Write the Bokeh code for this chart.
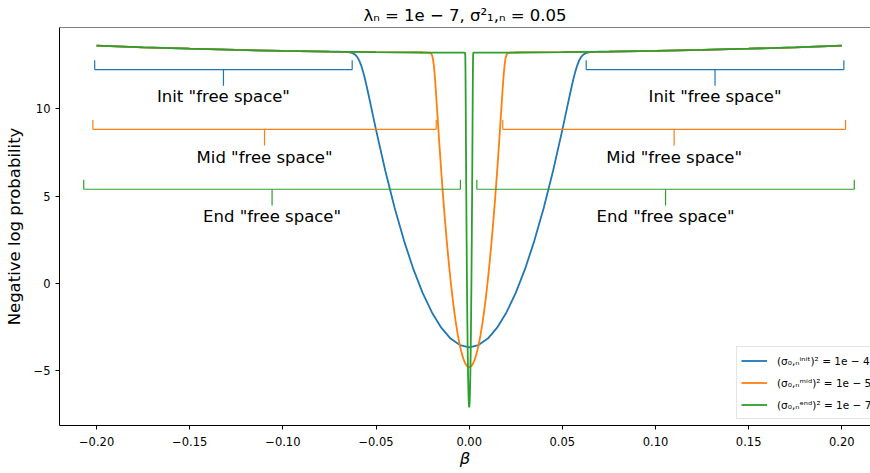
from bokeh.plotting import figure
from bokeh.models import Range1d, FixedTicker, Span
from bokeh.core.properties import value
from bokeh.embed import file_html
from bokeh.resources import INLINE

# ---------------- data (each curve is symmetric in beta) -------------
beta_init = [0.0, 0.005, 0.01, 0.015, 0.02, 0.025, 0.03, 0.035, 0.04, 0.045, 0.05, 0.052,
             0.054, 0.055, 0.056, 0.057, 0.058, 0.059, 0.06, 0.061, 0.062, 0.063, 0.065,
             0.067, 0.07, 0.075, 0.1, 0.125, 0.15, 0.175, 0.2]
nlp_init = [-3.686, -3.561, -3.186, -2.561, -1.686, -0.561, 0.814, 2.439, 4.314, 6.438, 8.802,
            9.802, 10.805, 11.290, 11.747, 12.159, 12.506, 12.777, 12.970, 13.097, 13.175,
            13.221, 13.264, 13.277, 13.286, 13.293, 13.337, 13.393, 13.462, 13.543, 13.637]

beta_mid = [0.0, 0.001, 0.002, 0.003, 0.004, 0.005, 0.006, 0.007, 0.008, 0.009, 0.010, 0.011,
            0.012, 0.013, 0.014, 0.015, 0.016, 0.017, 0.018, 0.0185, 0.019, 0.0195, 0.020,
            0.0205, 0.021, 0.022, 0.025, 0.03, 0.05, 0.075, 0.1, 0.125, 0.15, 0.175, 0.2]
nlp_mid = [-4.837, -4.787, -4.637, -4.387, -4.037, -3.587, -3.037, -2.387, -1.637, -0.787, 0.163,
           1.213, 2.363, 3.613, 4.963, 6.413, 7.958, 9.587, 11.221, 11.953, 12.533, 12.909,
           13.104, 13.189, 13.222, 13.239, 13.243, 13.246, 13.262, 13.293, 13.337, 13.393,
           13.462, 13.543, 13.637]

beta_end = [0.0, 0.0002, 0.0004, 0.0006, 0.0008, 0.001, 0.0012, 0.0014, 0.0016, 0.0018, 0.0019,
            0.002, 0.0021, 0.0022, 0.0024, 0.003, 0.01, 0.025, 0.05, 0.075, 0.1, 0.125, 0.15,
            0.175, 0.2]
nlp_end = [-7.140, -6.940, -6.340, -5.340, -3.940, -2.140, 0.060, 2.660, 5.659, 9.045, 10.817,
           12.338, 13.065, 13.215, 13.236, 13.237, 13.238, 13.243, 13.262, 13.293, 13.337,
           13.393, 13.462, 13.543, 13.637]

series_labels = ["(σ₀,ₙⁱⁿⁱᵗ)² = 1e − 4", "(σ₀,ₙᵐⁱᵈ)² = 1e − 5", "(σ₀,ₙᵉⁿᵈ)² = 1e − 7"]

# "free space" brackets: left interval, right interval, level, caption, caption level
bracket_left_start = [-0.2010, -0.2020, -0.2069]
bracket_left_end = [-0.0628, -0.0177, -0.0047]
bracket_right_start = [0.0628, 0.0180, 0.0041]
bracket_right_end = [0.2011, 0.2020, 0.2067]
bracket_level = [12.26, 8.83, 5.39]
bracket_text = ['Init "free space"', 'Mid "free space"', 'End "free space"']
bracket_text_level = [10.70, 7.23, 3.82]

x_ticks = [-0.20, -0.15, -0.10, -0.05, 0.0, 0.05, 0.10, 0.15, 0.20]
x_tick_labels = ["−0.20", "−0.15", "−0.10", "−0.05", "0.00", "0.05", "0.10", "0.15", "0.20"]
y_ticks = [-5, 0, 5, 10]
y_tick_labels = ["−5", "0", "5", "10"]

TITLE = "λₙ = 1e − 7, σ²₁,ₙ = 0.05"

# ---------------- styling ----------------
COLORS = ["#1f77b4", "#ff7f0e", "#2ca02c"]
FONT = "DejaVu Sans"
X0, X1 = -0.2199, 0.2154
Y0, Y1 = -8.18, 14.68
END_UP = 0.54     # bracket end ticks (data units)
MID_DOWN = 0.93   # bracket middle tick (data units)


def mirror(xs, ys):
    return [-x for x in reversed(xs[1:])] + list(xs), list(reversed(ys[1:])) + list(ys)


p = figure(width=870, height=473, output_backend="svg", toolbar_location=None,
           x_range=Range1d(X0, X1), y_range=Range1d(Y0, Y1),
           min_border_left=59, min_border_right=0, min_border_top=26, min_border_bottom=48)

p.title.text = TITLE
p.title.align = "center"
p.title.text_font = FONT
p.title.text_font_size = "16.5px"
p.title.text_font_style = "normal"
p.title.text_color = "black"
p.title.standoff = 6
p.title.offset = 3

p.xgrid.visible = False
p.ygrid.visible = False
p.outline_line_color = None
p.background_fill_color = "white"
p.border_fill_color = "white"

for ax in (p.xaxis[0], p.yaxis[0]):
    ax.axis_line_color = "black"
    ax.axis_line_width = 1
    ax.major_tick_line_color = "black"
    ax.major_tick_out = 4
    ax.major_tick_in = 0
    ax.minor_tick_line_color = None
    ax.major_label_text_font = FONT
    ax.major_label_text_font_size = "11.5px"
    ax.major_label_text_color = "black"
    ax.major_label_standoff = 5
    ax.axis_label_text_font = FONT
    ax.axis_label_text_font_size = "16.5px"
    ax.axis_label_text_color = "black"

p.xaxis[0].ticker = FixedTicker(ticks=x_ticks)
p.xaxis[0].major_label_overrides = dict(zip(x_ticks, x_tick_labels))
p.xaxis[0].axis_label = "β"
p.xaxis[0].axis_label_text_font_style = "italic"
p.xaxis[0].major_label_standoff = 7
p.xaxis[0].axis_label_standoff = 0

p.yaxis[0].ticker = FixedTicker(ticks=y_ticks)
p.yaxis[0].major_label_overrides = dict(zip(y_ticks, y_tick_labels))
p.yaxis[0].axis_label = "Negative log probability"
p.yaxis[0].axis_label_text_font_style = "normal"
p.yaxis[0].axis_label_standoff = 7

# top spine
p.add_layout(Span(location=Y1, dimension="width", line_color="black", line_width=1))

# curves
for (bx, by), color, lab in zip([(beta_init, nlp_init), (beta_mid, nlp_mid), (beta_end, nlp_end)],
                                COLORS, series_labels):
    xs, ys = mirror(bx, by)
    p.line(xs, ys, line_color=color, line_width=1.8, legend_label=lab)

# brackets
for i, color in enumerate(COLORS):
    lvl = bracket_level[i]
    for a, b in ((bracket_left_start[i], bracket_left_end[i]),
                 (bracket_right_start[i], bracket_right_end[i])):
        m = (a + b) / 2
        p.segment(x0=[a, a, b, m], y0=[lvl, lvl, lvl, lvl],
                  x1=[b, a, b, m], y1=[lvl, lvl + END_UP, lvl + END_UP, lvl - MID_DOWN],
                  line_color=color, line_width=1.2)
        p.text(x=[m], y=[bracket_text_level[i]], text=[bracket_text[i]],
               text_font=value(FONT), text_font_size="16.5px", text_color="black",
               text_align="center", text_baseline="middle")

lg = p.legend[0]
lg.location = (677, 6)
lg.margin = 0
lg.padding = 4
lg.spacing = 3
lg.glyph_width = 26
lg.glyph_height = 19
lg.label_height = 19
lg.label_standoff = 10
lg.label_text_font = FONT
lg.label_text_font_size = "10.5px"
lg.label_text_color = "black"
lg.border_line_color = "#cccccc"
lg.border_line_width = 1
lg.background_fill_alpha = 0.8

open("out.html", "w").write(file_html(p, INLINE))
